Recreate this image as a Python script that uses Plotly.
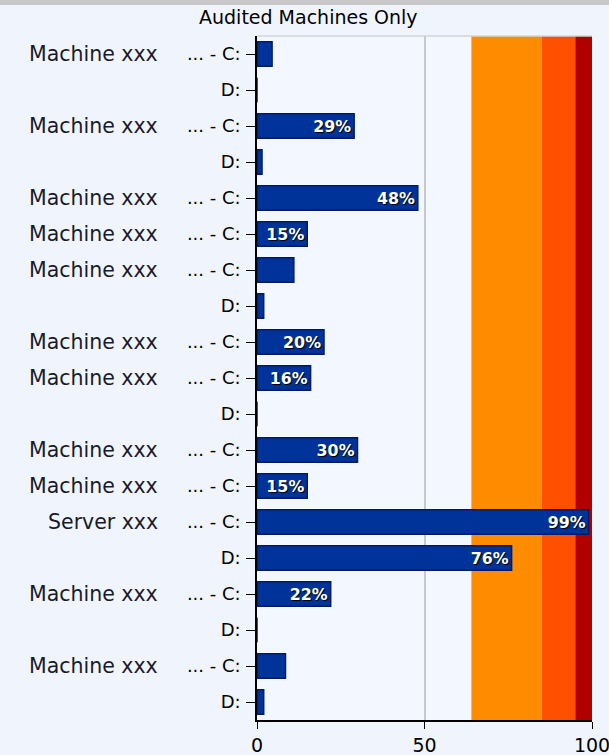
import plotly.graph_objects as go

machines = ["Machine xxx", "", "Machine xxx", "", "Machine xxx", "Machine xxx",
            "Machine xxx", "", "Machine xxx", "Machine xxx", "", "Machine xxx",
            "Machine xxx", "Server xxx", "", "Machine xxx", "", "Machine xxx", ""]
drives = ["... - C:", "D:", "... - C:", "D:", "... - C:", "... - C:", "... - C:", "D:",
          "... - C:", "... - C:", "D:", "... - C:", "... - C:", "... - C:", "D:",
          "... - C:", "D:", "... - C:", "D:"]
usage = [4.5, 0, 29, 1.5, 48, 15, 11, 2, 20, 16, 0, 30, 15, 99, 76, 22, 0, 8.5, 2]
bands = [(64, 85, "#ff8c00"), (85, 95, "#ff5000"), (95, 100, "#b00000")]
x_ticks = [0, 50, 100]

rows = list(range(len(usage)))
labels = [f"{v:.0f}%" if v >= 15 else "" for v in usage]

W, H = 609, 755
L, R, T, B = 257, 17, 36, 35
pw, ph = W - L - R, H - T - B
BG = "#f0f5fd"

def px_to_paper_x(px):
    return (px - L) / pw

def px_to_paper_y(py):
    return (H - B - py) / ph

fig = go.Figure()
fig.add_trace(go.Bar(
    x=usage, y=rows, orientation="h", width=0.68,
    marker=dict(color="#003399", line=dict(color="#001a66", width=1.5)),
    text=labels, textposition="inside", insidetextanchor="end",
    textfont=dict(family="DejaVu Sans", size=18, color="white", weight="bold",
                  shadow="1px 1px 1px #000000"),
    cliponaxis=False, hoverinfo="skip",
))

shapes = []
for x0, x1, c in bands:
    shapes.append(dict(type="rect", xref="x", yref="paper", x0=x0, x1=x1, y0=0, y1=1,
                       fillcolor=c, line=dict(width=0), layer="below"))
shapes.append(dict(type="line", xref="paper", yref="paper", x0=0, x1=1, y0=1, y1=1,
                   line=dict(color="#d4d4d4", width=1.5), layer="below"))
shapes.append(dict(type="rect", xref="paper", yref="paper",
                   x0=px_to_paper_x(0), x1=px_to_paper_x(W),
                   y0=px_to_paper_y(5), y1=px_to_paper_y(0),
                   fillcolor="#c8c8c8", line=dict(width=0)))

annotations = [dict(text="Audited Machines Only", xref="paper", yref="paper",
                    x=px_to_paper_x(308), y=px_to_paper_y(17), showarrow=False,
                    xanchor="center", yanchor="middle",
                    font=dict(family="DejaVu Sans", size=19, color="#000000"))]
for r, m in zip(rows, machines):
    if m:
        annotations.append(dict(text=m, xref="paper", yref="y", x=px_to_paper_x(160), y=r,
                                showarrow=False, xanchor="right", yanchor="middle",
                                font=dict(family="DejaVu Sans", size=20.5, color="#1a1a2a")))

fig.update_layout(
    width=W, height=H, margin=dict(l=L, r=R, t=T, b=B, autoexpand=False),
    paper_bgcolor=BG, plot_bgcolor="#f3f7ff",
    showlegend=False, shapes=shapes, annotations=annotations,
    xaxis=dict(range=[0, 100], tickvals=x_ticks, showgrid=True, gridcolor="#c8c8c8",
               gridwidth=1.5, zeroline=False, showline=True, linecolor="#000000",
               linewidth=1.5, ticks="outside", ticklen=7, tickcolor="#000000",
               automargin=False, ticklabeloverflow="allow",
               tickfont=dict(family="DejaVu Sans", size=19, color="#000000")),
    yaxis=dict(range=[len(usage) - 0.5, -0.5], tickvals=rows, ticktext=drives,
               showgrid=False, zeroline=False, showline=True, linecolor="#000000",
               linewidth=1.5, ticks="outside", ticklen=9, tickcolor="#000000",
               automargin=False, ticklabelstandoff=2,
               tickfont=dict(family="DejaVu Sans", size=18, color="#000000")),
)

fig.write_html("out.html", config={"displayModeBar": False},
               post_script=f"document.body.style.margin='0';document.body.style.background='{BG}';")
